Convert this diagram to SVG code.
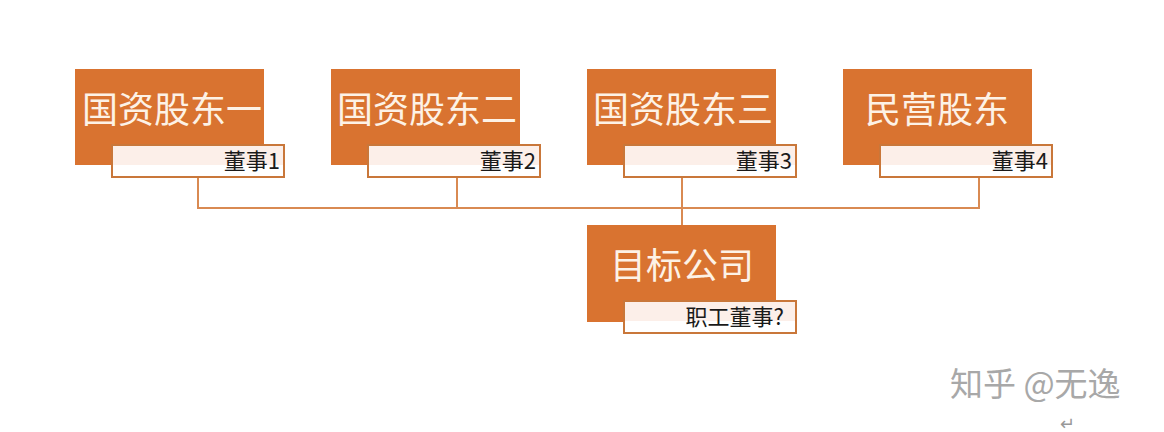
<svg xmlns="http://www.w3.org/2000/svg" width="1164" height="432" viewBox="0 0 1164 432">
<style>
.main{fill:#d97330;}
.lab{fill:#ffffff;stroke:#c9773a;stroke-width:2;}
.band{fill:#fcefe9;}
.t{font-family:"Noto Sans CJK SC","Liberation Sans",sans-serif;font-size:36px;fill:#fdf2e6;text-anchor:middle;}
.s{font-family:"Noto Sans CJK SC","Liberation Sans",sans-serif;font-size:22px;fill:#1a1a1a;text-anchor:end;}
.c{fill:none;stroke:#d98a52;stroke-width:2;}
.w{font-family:"Noto Sans CJK SC","Liberation Sans",sans-serif;font-size:33px;fill:#a8a8a8;}
</style>
<g id="connectors">
<polyline class="c" points="198,177 198,208 979,208 979,177"/>
<line class="c" x1="457" y1="177" x2="457" y2="208"/>
<line class="c" x1="682" y1="177" x2="682" y2="225"/>
</g>
<g id="node1">
<rect class="main" x="75" y="69" width="189" height="96"/>
<rect class="lab" x="112" y="145" width="172" height="32"/>
<rect class="band" x="113" y="146" width="170" height="19"/>
<text class="t" x="172" y="123">国资股东一</text>
<text class="s" x="280" y="169">董事1</text>
</g>
<g id="node2">
<rect class="main" x="331" y="69" width="189" height="96"/>
<rect class="lab" x="368" y="145" width="172" height="32"/>
<rect class="band" x="369" y="146" width="170" height="19"/>
<text class="t" x="427" y="123">国资股东二</text>
<text class="s" x="536" y="169">董事2</text>
</g>
<g id="node3">
<rect class="main" x="587" y="69" width="189" height="96"/>
<rect class="lab" x="624" y="145" width="172" height="32"/>
<rect class="band" x="625" y="146" width="170" height="19"/>
<text class="t" x="683" y="123">国资股东三</text>
<text class="s" x="792" y="169">董事3</text>
</g>
<g id="node4">
<rect class="main" x="843" y="69" width="189" height="96"/>
<rect class="lab" x="880" y="145" width="172" height="32"/>
<rect class="band" x="881" y="146" width="170" height="19"/>
<text class="t" x="937" y="123">民营股东</text>
<text class="s" x="1048" y="169">董事4</text>
</g>
<g id="target">
<rect class="main" x="587" y="225" width="189" height="97"/>
<rect class="lab" x="624" y="301" width="172" height="32"/>
<rect class="band" x="625" y="302" width="170" height="19"/>
<text class="t" x="682" y="279">目标公司</text>
<text class="s" x="784" y="325">职工董事?</text>
</g>
<g id="watermark">
<text class="w" x="950" y="396">知乎 @无逸</text>
<text x="1060" y="430" font-family="'Liberation Sans',sans-serif" font-size="18" fill="#999999">↵</text>
</g>
</svg>
